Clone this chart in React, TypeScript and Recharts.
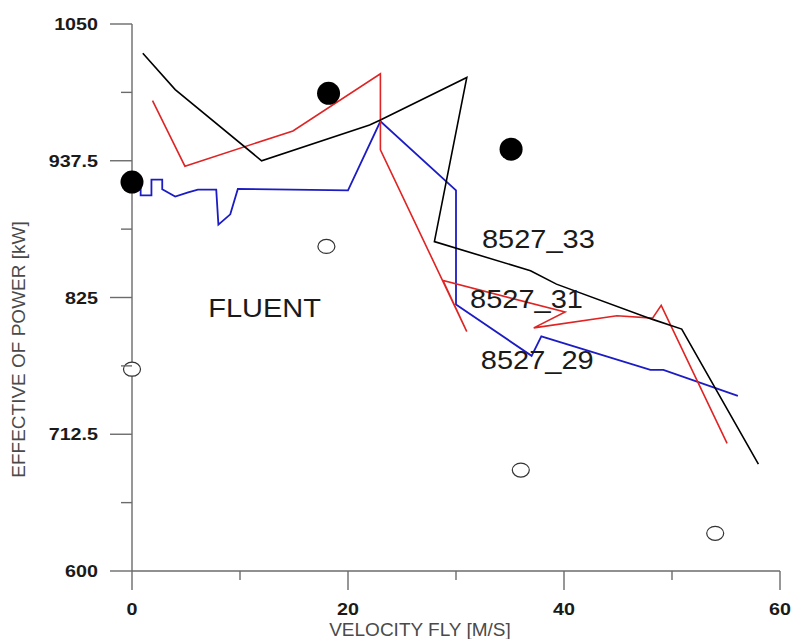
import {
  ComposedChart,
  Line,
  Scatter,
  XAxis,
  YAxis,
  ReferenceDot,
} from "recharts";

// ─── data (velocity m/s, power kW) ──────────────────────────────────────────
const line33: [number, number][] = [
  [1.0, 1026], [4.0, 996], [12.0, 937.5], [22.0, 967], [23.0, 971],
  [31.0, 1006], [28.0, 871], [36.9, 847], [39.3, 836], [48.2, 807],
  [50.9, 799], [58.0, 688],
];

const line31: [number, number][] = [
  [1.9, 987], [4.9, 933], [14.9, 962], [23.0, 1009], [23.0, 946.5],
  [31.0, 797], [28.8, 839], [40.1, 813], [37.2, 800], [44.9, 810],
  [48.2, 808], [49.0, 818.5], [55.1, 705],
];

const line29: [number, number][] = [
  [0.8, 921], [0.8, 909], [1.8, 909], [1.8, 922], [2.8, 922], [2.8, 914],
  [4.0, 908], [5.2, 911.5], [6.1, 913.7], [7.8, 913.7], [8.0, 885],
  [9.1, 893.4], [9.8, 914.3], [20.0, 913.2], [23.0, 970], [30.0, 913.2],
  [30.0, 819.3], [37.0, 777], [37.9, 793], [48.0, 765.4], [49.2, 765.4],
  [56.1, 744],
];

const fluentFilled: [number, number][] = [[0, 920], [18.2, 993], [35.1, 947]];
const fluentHollow: [number, number][] = [[0, 766], [18.0, 867], [36.0, 683], [54.0, 631]];

const xTicks = [0, 10, 20, 30, 40, 50, 60];
const xMajor = [0, 20, 40, 60];
const yTicks = [600, 656.25, 712.5, 768.75, 825, 881.25, 937.5, 993.75, 1050];
const yMajor = [600, 712.5, 825, 937.5, 1050];

const labels = [
  { text: "8527_33", x: 32.4, y: 866 },
  { text: "8527_31", x: 31.3, y: 816.5 },
  { text: "8527_29", x: 32.3, y: 766 },
  { text: "FLUENT", x: 7.06, y: 809 },
];

const toPts = (arr: [number, number][]) => arr.map(([x, y]) => ({ x, y }));

const AXIS = "#6b6b6b";
const FONT = "'Liberation Sans', Arial, sans-serif";

function XTick({ x, y, payload }: any) {
  const major = xMajor.includes(payload.value);
  return (
    <g>
      <line x1={x} x2={x} y1={y} y2={y + (major ? 19 : 9)} stroke={AXIS} strokeWidth={1.4} />
      {major && (
        <text
          transform={`translate(${x},${y + 44}) scale(1.16,1)`}
          textAnchor="middle"
          fontFamily={FONT}
          fontSize={17}
          fontWeight="bold"
          fill="#1a1a1a"
        >
          {payload.value}
        </text>
      )}
    </g>
  );
}

function YTick({ x, y, payload }: any) {
  const major = yMajor.includes(payload.value);
  return (
    <g>
      <line x1={x - (major ? 22 : 11)} x2={x} y1={y} y2={y} stroke={AXIS} strokeWidth={1.4} />
      {major && (
        <text
          transform={`translate(${x - 34},${y + 6}) scale(1.16,1)`}
          textAnchor="end"
          fontFamily={FONT}
          fontSize={17}
          fontWeight="bold"
          fill="#1a1a1a"
        >
          {payload.value}
        </text>
      )}
    </g>
  );
}

const FilledDot = (p: any) => <circle cx={p.cx} cy={p.cy} r={11.5} fill="#000" />;
const HollowDot = (p: any) => (
  <ellipse cx={p.cx} cy={p.cy} rx={8.5} ry={7} fill="#fff" stroke="#333" strokeWidth={1.2} />
);

export default function App() {
  return (
    <div style={{ position: "absolute", left: 0, top: 0, width: 795, height: 639, background: "#fff" }}>
      <ComposedChart width={795} height={639} margin={{ top: 24, right: 15, bottom: 0, left: 0 }}>
        <XAxis
          type="number"
          dataKey="x"
          domain={[0, 60]}
          ticks={xTicks}
          height={68}
          tickSize={0}
          tickMargin={0}
          tickLine={false}
          axisLine={{ stroke: AXIS, strokeWidth: 1.4 }}
          tick={<XTick />}
          label={{
            content: ({ viewBox }: any) => (
              <text
                x={viewBox.x + viewBox.width / 2 - 36}
                y={636}
                textAnchor="middle"
                fontFamily={FONT}
                fontSize={19}
                fill="#4a4a4a"
              >
                VELOCITY FLY [M/S]
              </text>
            ),
          }}
        />
        <YAxis
          type="number"
          dataKey="y"
          domain={[600, 1050]}
          ticks={yTicks}
          width={132}
          tickSize={0}
          tickMargin={0}
          tickLine={false}
          axisLine={{ stroke: AXIS, strokeWidth: 1.4 }}
          tick={<YTick />}
          label={{
            content: ({ viewBox }: any) => (
              <text
                transform={`translate(25,${viewBox.y + viewBox.height / 2 + 52}) rotate(-90)`}
                textAnchor="middle"
                fontFamily={FONT}
                fontSize={19}
                fill="#4a4a4a"
              >
                EFFECTIVE OF POWER [kW]
              </text>
            ),
          }}
        />
        <Line data={toPts(line29)} dataKey="y" type="linear" stroke="#1c1cc4" strokeWidth={1.8} dot={false} isAnimationActive={false} />
        <Line data={toPts(line31)} dataKey="y" type="linear" stroke="#e02424" strokeWidth={1.6} dot={false} isAnimationActive={false} />
        <Line data={toPts(line33)} dataKey="y" type="linear" stroke="#000" strokeWidth={1.6} dot={false} isAnimationActive={false} />
        <Scatter data={toPts(fluentHollow)} dataKey="y" shape={HollowDot} isAnimationActive={false} />
        <Scatter data={toPts(fluentFilled)} dataKey="y" shape={FilledDot} isAnimationActive={false} />
        {labels.map((l) => (
          <ReferenceDot
            key={l.text}
            x={l.x}
            y={l.y}
            r={0}
            ifOverflow="visible"
            fill="none"
            stroke="none"
            label={{
              content: ({ viewBox }: any) => (
                <text
                  transform={`translate(${viewBox.x},${viewBox.y}) scale(1.16,1)`}
                  fontFamily={FONT}
                  fontSize={25}
                  fill="#1a1a1a"
                >
                  {l.text}
                </text>
              ),
            }}
          />
        ))}
      </ComposedChart>
    </div>
  );
}
